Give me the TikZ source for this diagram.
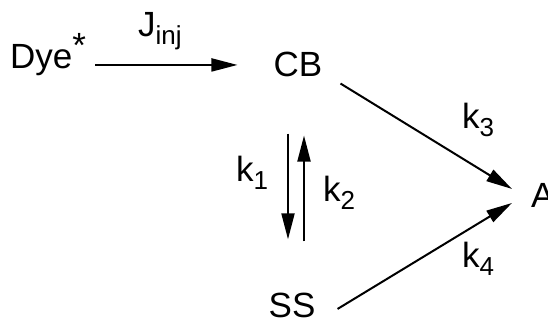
\documentclass[tikz,border=0pt]{standalone}
\usepackage{fontspec}
\setmainfont{Liberation Sans}
\usetikzlibrary{arrows.meta,calc}

% lowered, smaller index (subscript) in text
\newcommand{\lowidx}[1]{\raisebox{-8pt}{\fontsize{26}{26}\selectfont #1}}

\begin{document}
\begin{tikzpicture}[x=1pt,y=-1pt,
  lbl/.style={inner sep=0pt,font=\fontsize{35}{40}\selectfont},
  arr/.style={line width=2pt,-{Triangle[length=26pt,width=13pt]}}]
\useasboundingbox (0,0) rectangle (548,323);

% species
\node[lbl,anchor=base west] (dye) at (10,69) {Dye\raisebox{11pt}{*}};
\node[lbl,anchor=base] (cb) at (298,77) {CB};
\node[lbl,anchor=base] (ss) at (292,317) {SS};
\node[lbl,anchor=base west] (a) at (531,207) {A};

% rate labels
\node[lbl,anchor=base west] (jinj) at (138,37) {J\lowidx{inj}};
\node[lbl,anchor=base west] (k1) at (236,182) {k\lowidx{1}};
\node[lbl,anchor=base west] (k2) at (323,201) {k\lowidx{2}};
\node[lbl,anchor=base west] (k3) at (462,129) {k\lowidx{3}};
\node[lbl,anchor=base west] (k4) at (462,267) {k\lowidx{4}};

% transfer steps
\draw[arr] ($(dye.east |- cb.center)+(9,0)$) -- ($(cb.west)+(-36,0)$);
\draw[arr] ($(cb.south)+(-10,56)$) -- ($(ss.north)+(-4,-53)$);
\draw[arr] ($(ss.north)+(12,-51)$) -- ($(cb.south)+(6,58)$);
\draw[arr] ($(cb.south east)+(18,6)$) -- ($(a.west)+(-19,-6)$);
\draw[arr] ($(ss.east)+(22,4)$) -- ($(a.west)+(-19,8)$);
\end{tikzpicture}
\end{document}
